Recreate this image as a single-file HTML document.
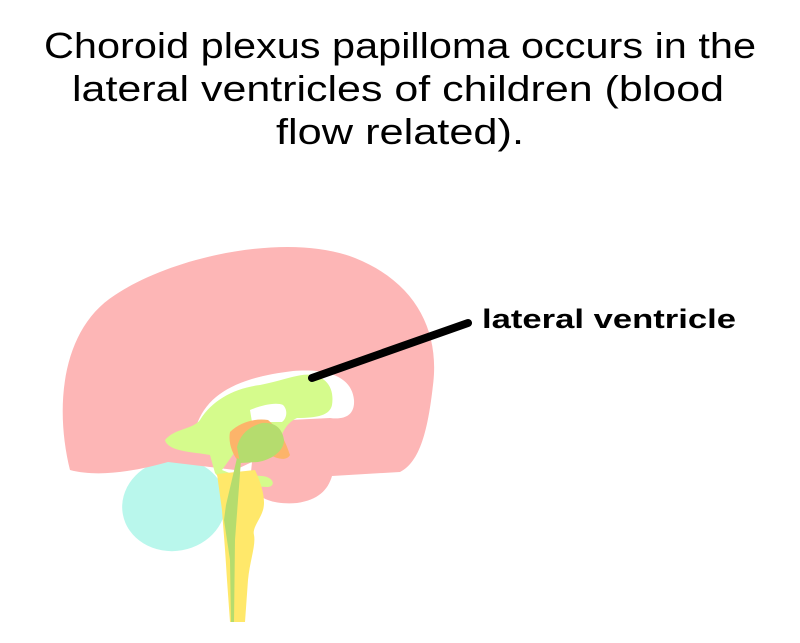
<!DOCTYPE html>
<html><head><meta charset="utf-8"><style>
html,body{margin:0;padding:0;background:#fff;width:800px;height:643px;overflow:hidden}
svg{display:block}
text{font-family:"Liberation Sans",sans-serif;fill:#000}
</style></head><body>
<svg width="800" height="643" viewBox="0 0 800 643" xmlns="http://www.w3.org/2000/svg">
<text x="400" y="58" font-size="36" text-anchor="middle" textLength="712" lengthAdjust="spacingAndGlyphs">Choroid plexus papilloma occurs in the</text>
<text x="398" y="101" font-size="36" text-anchor="middle" textLength="652" lengthAdjust="spacingAndGlyphs">lateral ventricles of children (blood</text>
<text x="400" y="144" font-size="36" text-anchor="middle" textLength="248" lengthAdjust="spacingAndGlyphs">flow related).</text>
<text x="482" y="328" font-size="27" font-weight="bold" textLength="254" lengthAdjust="spacingAndGlyphs">lateral ventricle</text>

<ellipse cx="174" cy="505" rx="52" ry="46" fill="#b9f7ec" transform="rotate(-10 174 505)"/>
<path d="M70 470 C55 410 60 330 115 295 C175 255 290 232 355 258 C415 282 440 330 433 385 C428 430 420 462 400 472 L332 476 C328 490 318 500 297 503 C272 505 255 498 250 482 L252 462 L235 470 L168 462 C140 470 100 478 70 470 Z" fill="#fdb6b6"/>
<path d="M195 430 C205 395 235 378 293 371 C330 368 352 378 354 400 C355 415 345 420 330 418 L290 420 L260 440 L210 440 Z" fill="#fff"/>
<path d="M165 440 C175 428 192 430 200 420 C212 400 235 388 260 385 C285 380 300 373 312 375 C330 378 334 392 332 405 C330 415 318 418 297 418 C288 422 283 430 280 440 L250 440 L240 445 L222 470 L232 474 L262 476 C274 477 276 486 268 487 L225 485 L215 473 L210 455 C195 452 168 452 165 440 Z" fill="#d5fb8c"/>
<path d="M250 410 C262 405 276 402 283 405 C288 410 287 418 282 422 L252 422 Z" fill="#fff"/>
<path d="M217 474 L255 470 C262 485 266 500 263 510 C260 520 252 528 254 535 C256 545 250 560 248 580 L245 622 L230 622 L227 580 C225 545 223 525 222 510 Z" fill="#ffe86a"/>
<path d="M230 432 C240 422 255 418 268 420 C280 430 285 440 290 455 C286 462 276 458 270 455 L240 463 C232 455 228 442 230 432 Z" fill="#fcb46a"/>
<path d="M237 447 C240 435 248 427 262 423 C275 422 282 428 284 440 C284 452 270 460 258 462 L240 463 Z" fill="#b5dc6e"/>
<path d="M237 458 L241 460 L235 540 L234 622 L231 622 L230 560 L224 520 L226 505 Z" fill="#b5dc6e"/>
<line x1="312" y1="378" x2="468" y2="323" stroke="#000" stroke-width="8" stroke-linecap="round"/>
</svg>
</body></html>
